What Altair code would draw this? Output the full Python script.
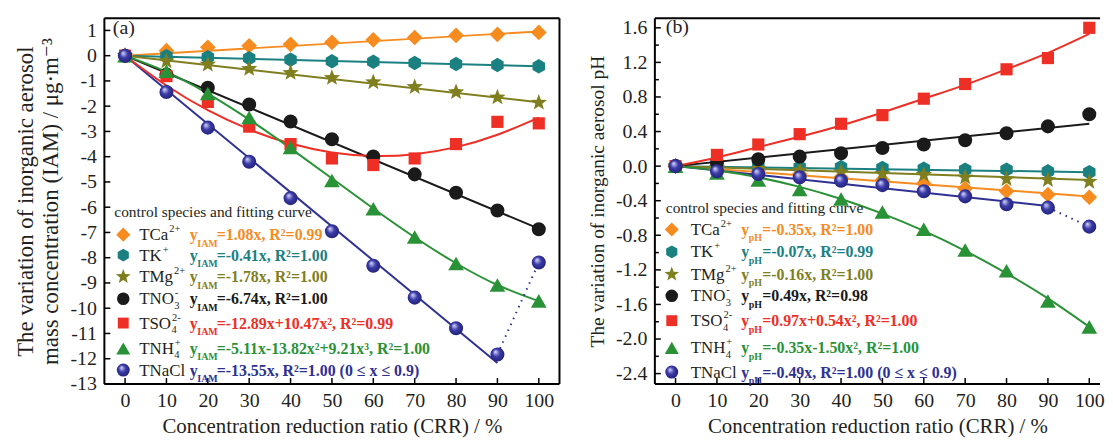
import altair as alt
import pandas as pd

SERIF = "Liberation Serif, DejaVu Serif, serif"
INK = "#231f20"

# ---------------- data ----------------
CRR = [0, 10, 20, 30, 40, 50, 60, 70, 80, 90, 100]
SPECIES = ["TCa", "TK", "TMg", "TNO3", "TSO4", "TNH4", "TNaCl"]
NAME_BASE = ["TCa", "TK", "TMg", "TNO", "TSO", "TNH", "TNaCl"]
NAME_SUB = ["", "", "", "3", "4", "4", ""]
NAME_SUP = ["2+", "+", "2+", "-", "2-", "+", ""]
COLORS = ["#f68b1f", "#1b8080", "#7f7f1f", "#1a1a1a", "#ee2f25", "#2a9236", "#2e3192"]

# panel (a): variation of IAM mass concentration
A_TCa = [0, 0.20, 0.33, 0.39, 0.45, 0.53, 0.63, 0.72, 0.80, 0.84, 0.92]
A_TK = [0, -0.02, -0.06, -0.10, -0.16, -0.22, -0.24, -0.29, -0.33, -0.37, -0.42]
A_TMg = [0, -0.22, -0.35, -0.52, -0.68, -0.88, -1.05, -1.24, -1.44, -1.65, -1.86]
A_TNO3 = [0, -0.75, -1.27, -1.93, -2.61, -3.31, -3.99, -4.70, -5.43, -6.13, -6.87]
A_TSO4 = [0, -0.81, -1.83, -2.81, -3.50, -4.07, -4.33, -4.07, -3.50, -2.62, -2.68]
A_TNH4 = [0, -0.61, -1.50, -2.45, -3.63, -4.94, -6.06, -7.18, -8.23, -9.08, -9.71]
A_TNaCl = [0, -1.44, -2.85, -4.20, -5.64, -6.95, -8.32, -9.58, -10.79, -11.83, -8.19]
# fitted curves
A_FIT_TCa = [0, 0.96]
A_FIT_TK = [0, -0.42]
A_FIT_TMg = [0, -1.84]
A_FIT_TNO3 = [0, -6.85]
A_FIT_TNaCl = [0, -12.17]
A_FIT_TSO4 = [0, -1.18, -2.16, -2.92, -3.48, -3.83, -3.97, -3.90, -3.62, -3.13, -2.45]
A_FIT_TNH4 = [0, -0.64, -1.50, -2.53, -3.67, -4.86, -6.05, -7.19, -8.22, -9.08, -9.72]
A_FORMULAS = ["=1.08x, R²=0.99", "=-0.41x, R²=1.00", "=-1.78x, R²=1.00",
              "=-6.74x, R²=1.00", "=-12.89x+10.47x², R²=0.99",
              "=-5.11x-13.82x²+9.21x³, R²=1.00", "=-13.55x, R²=1.00 (0 ≤ x ≤ 0.9)"]

# panel (b): variation of aerosol pH
B_TCa = [0, -0.04, -0.05, -0.09, -0.13, -0.16, -0.20, -0.26, -0.29, -0.33, -0.36]
B_TK = [0, 0.01, 0.0, -0.01, -0.01, -0.02, -0.03, -0.04, -0.04, -0.06, -0.07]
B_TMg = [0, -0.02, -0.03, -0.05, -0.07, -0.09, -0.10, -0.13, -0.15, -0.16, -0.18]
B_TNO3 = [0, 0.04, 0.08, 0.11, 0.15, 0.21, 0.25, 0.30, 0.38, 0.46, 0.60]
B_TSO4 = [0, 0.13, 0.25, 0.37, 0.49, 0.59, 0.78, 0.95, 1.12, 1.25, 1.60]
B_TNH4 = [0, -0.08, -0.16, -0.27, -0.38, -0.53, -0.73, -0.97, -1.21, -1.56, -1.86]
B_TNaCl = [0, -0.06, -0.09, -0.13, -0.17, -0.22, -0.29, -0.35, -0.44, -0.48, -0.70]
B_FIT_TCa = [0, -0.35]
B_FIT_TK = [0, -0.07]
B_FIT_TMg = [0, -0.16]
B_FIT_TNO3 = [0, 0.49]
B_FIT_TNaCl = [0, -0.46]
B_FIT_TSO4 = [0, 0.10, 0.22, 0.34, 0.47, 0.62, 0.78, 0.94, 1.12, 1.31, 1.53]
B_FIT_TNH4 = [0, -0.05, -0.13, -0.24, -0.38, -0.55, -0.75, -0.98, -1.24, -1.53, -1.86]
B_FORMULAS = ["=-0.35x, R²=1.00", "=-0.07x, R²=0.99", "=-0.16x, R²=1.00",
              "=0.49x, R²=0.98", "=0.97x+0.54x², R²=1.00",
              "=-0.35x-1.50x², R²=1.00", "=-0.49x, R²=1.00 (0 ≤ x ≤ 0.9)"]

A_YTICKS = list(range(-13, 2))
B_YTICKS = [-2.4, -2.0, -1.6, -1.2, -0.8, -0.4, 0.0, 0.4, 0.8, 1.2, 1.6]
B_YMINOR = [-2.2, -1.8, -1.4, -1.0, -0.6, -0.2, 0.2, 0.6, 1.0, 1.4]

# ---------------- style ----------------
STAR = ("M0,-1L0.247,-0.34L0.951,-0.309L0.399,0.13L0.588,0.809L0,0.42"
        "L-0.588,0.809L-0.399,0.13L-0.951,-0.309L-0.247,-0.34Z")
HEX = "M0,-1L0.866,-0.5L0.866,0.5L0,1L-0.866,0.5L-0.866,-0.5Z"
SHAPES = ["diamond", HEX, STAR, "circle", "square", "triangle-up", "circle"]
SIZES = [250, 210, 300, 200, 150, 250, 200]
SPHERE = alt.RadialGradient(
    gradient="radial",
    stops=[alt.GradientStop(color="#dcdcff", offset=0),
           alt.GradientStop(color="#3b3ba8", offset=0.45),
           alt.GradientStop(color="#1c1c6e", offset=1)],
    x1=0.35, y1=0.3, r1=0, x2=0.5, y2=0.5, r2=0.6)

# approximate Times glyph advance widths (em) for placing super/subscripts
GLYPH_W = {"T": 0.611, "C": 0.667, "a": 0.444, "K": 0.722, "M": 0.889, "g": 0.5,
           "N": 0.722, "O": 0.722, "S": 0.556, "H": 0.722, "l": 0.278}
NAME_FS = 17

W_A, W_B, H = 458, 448, 368
XDOM_A = [-5, 105]
XDOM_B = [-5, -5 + 110 * W_B / W_A]   # same px-per-% as panel (a); right edge cropped


def build_panel(vals, fits_lin, fits_curve, formulas, sub, xdom, width, ydom, yticks,
                yminor, yfmt, ytitle, ytitle_size, lay, tag, right_frame):
    X = alt.X("x:Q", scale=alt.Scale(domain=xdom, nice=False, zero=False),
              axis=alt.Axis(values=CRR, title="Concentration reduction ratio (CRR) / %"))
    Y = alt.Y("y:Q", scale=alt.Scale(domain=ydom, nice=False, zero=False),
              axis=alt.Axis(values=yticks, format=yfmt, title=ytitle,
                            titleFontSize=ytitle_size,
                            labelExpr="replace(datum.label, '\u2212', '-')"))
    layers = []
    one = pd.DataFrame({"k": [0]})
    # frame
    frame = alt.Chart(one).mark_rule(color="black", strokeWidth=2)
    layers.append(frame.encode(x=alt.value(0), x2=alt.value(width), y=alt.value(0)))
    layers.append(frame.encode(x=alt.value(0), x2=alt.value(width), y=alt.value(H)))
    layers.append(frame.encode(x=alt.value(0), y=alt.value(0), y2=alt.value(H)))
    if right_frame:
        layers.append(frame.encode(x=alt.value(width), y=alt.value(0), y2=alt.value(H)))
    # inward ticks
    yt = pd.DataFrame({"y": yticks})
    layers.append(alt.Chart(yt).mark_rule(color="black", strokeWidth=1.5).encode(
        y=Y, x=alt.value(0), x2=alt.value(6)))
    if yminor:
        ym = pd.DataFrame({"y": yminor})
        layers.append(alt.Chart(ym).mark_rule(color="black", strokeWidth=1.5).encode(
            y=Y, x=alt.value(0), x2=alt.value(4)))
    xt = pd.DataFrame({"x": CRR})
    layers.append(alt.Chart(xt).mark_rule(color="black", strokeWidth=1.5).encode(
        x=X, y=alt.value(H), y2=alt.value(H - 6)))

    # fitted lines
    for sp, (xs, ys) in fits_lin.items():
        c = COLORS[SPECIES.index(sp)]
        df = pd.DataFrame({"x": xs, "y": ys})
        layers.append(alt.Chart(df).mark_line(color=c, strokeWidth=2).encode(x=X, y=Y))
    for sp, ys in fits_curve.items():
        c = COLORS[SPECIES.index(sp)]
        df = pd.DataFrame({"x": CRR, "y": ys})
        layers.append(alt.Chart(df).mark_line(color=c, strokeWidth=2,
                                              interpolate="natural").encode(x=X, y=Y))
    # dotted extension of NaCl
    nacl = vals["TNaCl"]
    dd = pd.DataFrame({"x": CRR[-2:], "y": nacl[-2:]})
    layers.append(alt.Chart(dd).mark_line(color=COLORS[6], strokeWidth=2,
                                          strokeDash=[1.5, 5]).encode(x=X, y=Y))
    # points
    for i, sp in enumerate(SPECIES):
        df = pd.DataFrame({"x": CRR, "y": vals[sp]})
        if sp == "TNaCl":
            mk = alt.Chart(df).mark_point(shape="circle", filled=True, fill=SPHERE,
                                          size=SIZES[i], opacity=1, strokeWidth=0)
        else:
            mk = alt.Chart(df).mark_point(shape=SHAPES[i], filled=True, fill=COLORS[i],
                                          size=SIZES[i], opacity=1, strokeWidth=0)
        layers.append(mk.encode(x=X, y=Y))

    def txt(text, x, y, size, color=INK, weight="normal"):
        return alt.Chart(one).mark_text(text=text, align="left", baseline="alphabetic",
                                        font=SERIF, fontSize=size, fontWeight=weight,
                                        color=color).encode(x=alt.value(x), y=alt.value(y))

    # panel tag
    layers.append(txt(tag, lay["tag"][0], lay["tag"][1], 20))
    # legend
    layers.append(txt("control species and fitting curve", lay["title"][0],
                      lay["title"][1], 15.5))
    for i, sp in enumerate(SPECIES):
        ry = lay["rows"][i]
        c = COLORS[i]
        if sp == "TNaCl":
            sym = alt.Chart(one).mark_point(shape="circle", filled=True, fill=SPHERE,
                                            size=170, opacity=1, strokeWidth=0)
        else:
            sym = alt.Chart(one).mark_point(shape=SHAPES[i], filled=True, fill=c,
                                            size=SIZES[i] * 0.8, opacity=1, strokeWidth=0)
        layers.append(sym.encode(x=alt.value(lay["sym"]), y=alt.value(ry)))
        base_w = sum(GLYPH_W[ch] for ch in NAME_BASE[i]) * NAME_FS
        layers.append(txt(NAME_BASE[i], lay["name"], ry + 5.5, NAME_FS))
        if NAME_SUB[i]:
            layers.append(txt(NAME_SUB[i], lay["name"] + base_w + 0.5, ry + 10, 10.5))
        if NAME_SUP[i]:
            layers.append(txt(NAME_SUP[i], lay["name"] + base_w + 1, ry - 2.5, 10.5))
        layers.append(txt("y", lay["fy"], ry + 5.5, 16, c, "bold"))
        layers.append(txt(sub, lay["fy"] + 7.5, ry + 12, 10, c, "bold"))
        layers.append(txt(formulas[i], lay["rest"], ry + 5.5, 16, c, "bold"))
    return alt.layer(*layers).properties(width=width, height=H)


vals_a = {"TCa": A_TCa, "TK": A_TK, "TMg": A_TMg, "TNO3": A_TNO3,
          "TSO4": A_TSO4, "TNH4": A_TNH4, "TNaCl": A_TNaCl}
vals_b = {"TCa": B_TCa, "TK": B_TK, "TMg": B_TMg, "TNO3": B_TNO3,
          "TSO4": B_TSO4, "TNH4": B_TNH4, "TNaCl": B_TNaCl}
lin_a = {"TCa": ([0, 100], A_FIT_TCa), "TK": ([0, 100], A_FIT_TK),
         "TMg": ([0, 100], A_FIT_TMg), "TNO3": ([0, 100], A_FIT_TNO3),
         "TNaCl": ([0, 90], A_FIT_TNaCl)}
lin_b = {"TCa": ([0, 100], B_FIT_TCa), "TK": ([0, 100], B_FIT_TK),
         "TMg": ([0, 100], B_FIT_TMg), "TNO3": ([0, 100], B_FIT_TNO3),
         "TNaCl": ([0, 90], B_FIT_TNaCl)}
curve_a = {"TSO4": A_FIT_TSO4, "TNH4": A_FIT_TNH4}
curve_b = {"TSO4": B_FIT_TSO4, "TNH4": B_FIT_TNH4}

LAY_A = {"tag": (8.5, 16), "title": (10, 200),
         "rows": [217.7, 238.3, 260, 282.3, 306.7, 332.3, 354],
         "sym": 19, "name": 35, "fy": 86, "rest": 113}
LAY_B = {"tag": (11, 14.5), "title": (11, 196),
         "rows": [212.6, 235, 257.6, 279.3, 304.3, 331.6, 356],
         "sym": 17, "name": 36, "fy": 87, "rest": 108}

panel_a = build_panel(vals_a, lin_a, curve_a, A_FORMULAS, "IAM", XDOM_A, W_A,
                      [-13, 1.48], A_YTICKS, None, "d",
                      ["The variation of inorganic aerosol", "mass concentration (IAM) / μg·m⁻³"],
                      23, LAY_A, "(a)", True)
panel_b = build_panel(vals_b, lin_b, curve_b, B_FORMULAS, "pH", XDOM_B, W_B,
                      [-2.52, 1.71], B_YTICKS, B_YMINOR, ".1f",
                      "The variation of inorganic aerosol pH",
                      19.5, LAY_B, "(b)", False)

chart = alt.hconcat(panel_a, panel_b, spacing=27).properties(
    padding={"left": 6, "top": 7, "right": 0, "bottom": 0}
).configure(font=SERIF).configure_view(
    stroke="transparent", strokeWidth=0
).configure_axis(
    domain=False, grid=False, ticks=False, tickSize=0,
    labelFont=SERIF, titleFont=SERIF, labelFontSize=20, labelColor=INK,
    titleColor=INK, titleFontWeight="normal", titleFontSize=21,
    labelPadding=8, titlePadding=8, titleLineHeight=25
).configure_axisX(labelPadding=7, titlePadding=5)

chart.save("out.html", embed_options={"renderer": "svg", "actions": False})
